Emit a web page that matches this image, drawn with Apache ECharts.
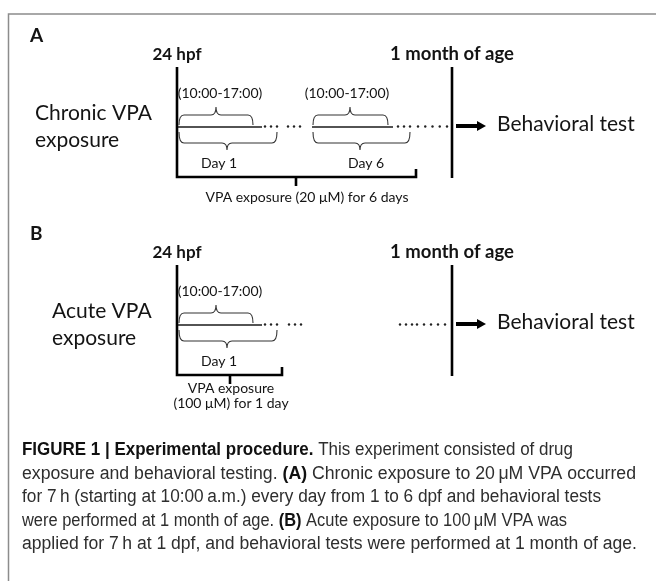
<!DOCTYPE html>
<html>
<head>
<meta charset="utf-8">
<script src="https://cdn.jsdelivr.net/npm/echarts@6/dist/echarts.min.js"></script>
<style>html,body{margin:0;padding:0;background:#fff}#c{width:656px;height:581px}</style>
</head>
<body>
<div id="c"></div>
<script>
// ---------- content (text) ----------
const panelLetters = ['A', 'B'];
const groupNames = [['Chronic VPA', 'exposure'], ['Acute VPA', 'exposure']];
const milestoneNames = ['24 hpf', '1 month of age'];
const windowLabel = '(10:00-17:00)';
const dayLabelsA = ['Day 1', 'Day 6'];
const dayLabelsB = ['Day 1'];
const exposureLabelA = ['VPA exposure (20 \u03bcM) for 6 days'];
const exposureLabelB = ['VPA exposure', '(100 \u03bcM) for 1 day'];
const outcomeLabel = 'Behavioral test';
const captionLines = [
  '{b|FIGURE 1 | Experimental procedure.} This experiment consisted of drug',
  'exposure and behavioral testing. {b|(A)} Chronic exposure to 20\u2009\u03bcM VPA occurred',
  'for 7\u2009h (starting at 10:00\u2009a.m.) every day from 1 to 6 dpf and behavioral tests',
  'were performed at 1 month of age. {b|(B)} Acute exposure to 100\u2009\u03bcM VPA was',
  'applied for 7\u2009h at 1 dpf, and behavioral tests were performed at 1 month of age.'
];
// right edge of each caption line in the figure (condensed caption typeface)
const captionLineEnds = [573, 636, 601, 567, 637];

// ---------- timeline structure (diagram units on the hidden axes) ----------
const panelRowY = [127, 325];            // y of the exposure timeline in each panel
const startX = 177;                      // 24 hpf
const monthX = 452;                      // 1 month of age
// exposure days: [day start, 7 h window end, timeline end, day end, window tip, day tip, window label x, day label x]
const daysA = [[178, 253, 262, 277, 216, 227, 220, 219], [312, 388, 393, 410, 350, 360, 347, 366]];
const daysB = [[178, 253, 262, 277, 216, 227, 220, 219]];
const bracketA = [416, 296, 307];        // [end, centre tick, label centre]
const bracketB = [282, 230, 231];
// dot groups: [x start, x end, count]
const dotsA = [[265, 277, 3], [288, 300, 3], [398, 410, 3], [418, 447, 5]];
const dotsB = [[265, 277, 3], [289, 301, 3], [400, 412, 3], [417, 445, 5]];

// ---------- build element list ----------
const FONT = 'Lato, "Open Sans", sans-serif';
const CAPFONT = '"Liberation Sans", Arial, sans-serif';
const CAPSIZE = 18;
const els = [];
function txt(x, y, text, size, weight, align, extra) {
  els.push(Object.assign({ kind: 'text', x, y, text, size, weight: weight || 'normal', align: align || 'left', font: FONT, color: '#141414' }, extra || {}));
}
function poly(points, width, color) { els.push({ kind: 'poly', points, width, color: color || '#000' }); }
function brace(x0, x1, xt, yEnd, yMid, yTip) { els.push({ kind: 'brace', x0, x1, xt, yEnd, yMid, yTip }); }

// frame
poly([[656, 14], [8.5, 14], [8.5, 581]], 1.5, '#8c8c8c');

function panel(i, days, dayLabels, bracket, dots, exposureLines, groupX, expY) {
  const r = panelRowY[i];
  txt(30, r - 91, panelLetters[i], 19, 'bold');
  txt(startX, r - 72, milestoneNames[0], 17, 'bold', 'center');
  txt(monthX, r - 73, milestoneNames[1], 18.5, 'bold', 'center');
  txt(groupX, r - 14, groupNames[i][0], 21, 'normal', 'left');
  txt(groupX, r + 13, groupNames[i][1], 21, 'normal', 'left');
  // main axis + bottom bracket
  poly([[startX, r - 60], [startX, r + 50], [bracket[0], r + 50], [bracket[0], r + 42]], 2.6);
  poly([[bracket[1], r + 50], [bracket[1], r + 59]], 2.6);
  // month line
  poly([[monthX, r - 60], [monthX, r + 51]], 2.6);
  days.forEach((d, k) => {
    poly([[d[0], r], [d[2], r]], 1.6, '#1a1a1a');
    brace(d[0] + 1, d[1], d[4], r - 2, r - 12, r - 20);
    brace(d[0] + 1, d[3], d[5], r + 5, r + 16, r + 23);
    txt(d[6], r - 34, windowLabel, 14, 'normal', 'center');
    txt(d[7], r + 36, dayLabels[k], 14, 'normal', 'center');
  });
  dots.forEach(g => els.push({ kind: 'dots', x0: g[0], x1: g[1], n: g[2], y: r }));
  exposureLines.forEach((t, k) => txt(bracket[2], expY + k * 15.5, t, 14, 'normal', 'center'));
  els.push({ kind: 'arrow', x0: monthX + 4, x1: monthX + 34, y: r - 1 });
  txt(monthX + 45, r - 3, outcomeLabel, 21, 'normal', 'left');
}
panel(0, daysA, dayLabelsA, bracketA, dotsA, exposureLabelA, 35, 197);
panel(1, daysB, dayLabelsB, bracketB, dotsB, exposureLabelB, 52, 388);

// caption: measure each line and condense horizontally to the figure's line length
const mctx = document.createElement('canvas').getContext('2d');
function measureRich(t) {
  let w = 0;
  const re = /\{b\|([^}]*)\}/g;
  let last = 0, m;
  while ((m = re.exec(t)) !== null) {
    mctx.font = `${CAPSIZE}px ${CAPFONT}`;
    w += mctx.measureText(t.slice(last, m.index)).width;
    mctx.font = `bold ${CAPSIZE}px ${CAPFONT}`;
    w += mctx.measureText(m[1]).width;
    last = re.lastIndex;
  }
  mctx.font = `${CAPSIZE}px ${CAPFONT}`;
  w += mctx.measureText(t.slice(last)).width;
  return w;
}
captionLines.forEach((t, k) => {
  const sx = Math.min(1.05, (captionLineEnds[k] - 22) / measureRich(t));
  els.push({ kind: 'text', x: 22, y: 450 + k * 23.6, text: t, size: CAPSIZE, weight: 'normal', align: 'left', font: CAPFONT, color: '#2e2e2e', rich: true, scaleX: sx });
});

// ---------- render ----------
function renderItem(params, api) {
  const e = els[params.dataIndex];
  const c = (x, y) => api.coord([x, y]);
  if (e.kind === 'text') {
    const p = c(e.x, e.y);
    const style = { x: 0, y: 0, text: e.text, fontSize: e.size, fontFamily: e.font, fontWeight: e.weight, fill: e.color, align: e.align, verticalAlign: 'middle' };
    if (e.rich) style.rich = { b: { fontWeight: 'bold', fontSize: e.size, fontFamily: e.font, fill: '#111' } };
    return { type: 'text', x: p[0], y: p[1], scaleX: e.scaleX || 1, style };
  }
  if (e.kind === 'poly') {
    return { type: 'polyline', shape: { points: e.points.map(q => c(q[0], q[1])) }, style: { stroke: e.color, lineWidth: e.width, fill: null, lineJoin: 'miter' } };
  }
  if (e.kind === 'brace') {
    const a = c(e.x0, e.yEnd), b = c(e.x1, e.yEnd), m = c(e.xt, e.yMid), t = c(e.xt, e.yTip);
    const ym = m[1], rr = 5;
    const d = `M${a[0]} ${a[1]} Q${a[0]} ${ym} ${a[0] + rr} ${ym} L${m[0] - rr} ${ym} Q${m[0]} ${ym} ${t[0]} ${t[1]} Q${m[0]} ${ym} ${m[0] + rr} ${ym} L${b[0] - rr} ${ym} Q${b[0]} ${ym} ${b[0]} ${b[1]}`;
    return { type: 'path', shape: { pathData: d }, style: { stroke: '#333', lineWidth: 1.1, fill: null } };
  }
  if (e.kind === 'dots') {
    const ch = [];
    for (let k = 0; k < e.n; k++) {
      const p = c(e.x0 + (e.x1 - e.x0) * k / (e.n - 1), e.y);
      ch.push({ type: 'circle', shape: { cx: p[0], cy: p[1] - 0.5, r: 1.2 }, style: { fill: '#222' } });
    }
    return { type: 'group', children: ch };
  }
  if (e.kind === 'arrow') {
    const a = c(e.x0, e.y), b = c(e.x1, e.y);
    return { type: 'group', children: [
      { type: 'line', shape: { x1: a[0], y1: a[1], x2: b[0] - 8, y2: b[1] }, style: { stroke: '#000', lineWidth: 4 } },
      { type: 'polygon', shape: { points: [[b[0] - 9, b[1] - 5], [b[0], b[1]], [b[0] - 9, b[1] + 5]] }, style: { fill: '#000' } }
    ] };
  }
  return null;
}

const chart = echarts.init(document.getElementById('c'), null, { renderer: 'canvas' });
chart.setOption({
  backgroundColor: '#fff',
  animation: false,
  grid: { left: 0, right: 0, top: 0, bottom: 0 },
  xAxis: { type: 'value', min: 0, max: 656, show: false },
  yAxis: { type: 'value', min: 0, max: 581, inverse: true, show: false },
  series: [{
    type: 'custom',
    coordinateSystem: 'cartesian2d',
    renderItem,
    clip: false,
    data: els.map((e, i) => [i, 0])
  }]
});
</script>
</body>
</html>
